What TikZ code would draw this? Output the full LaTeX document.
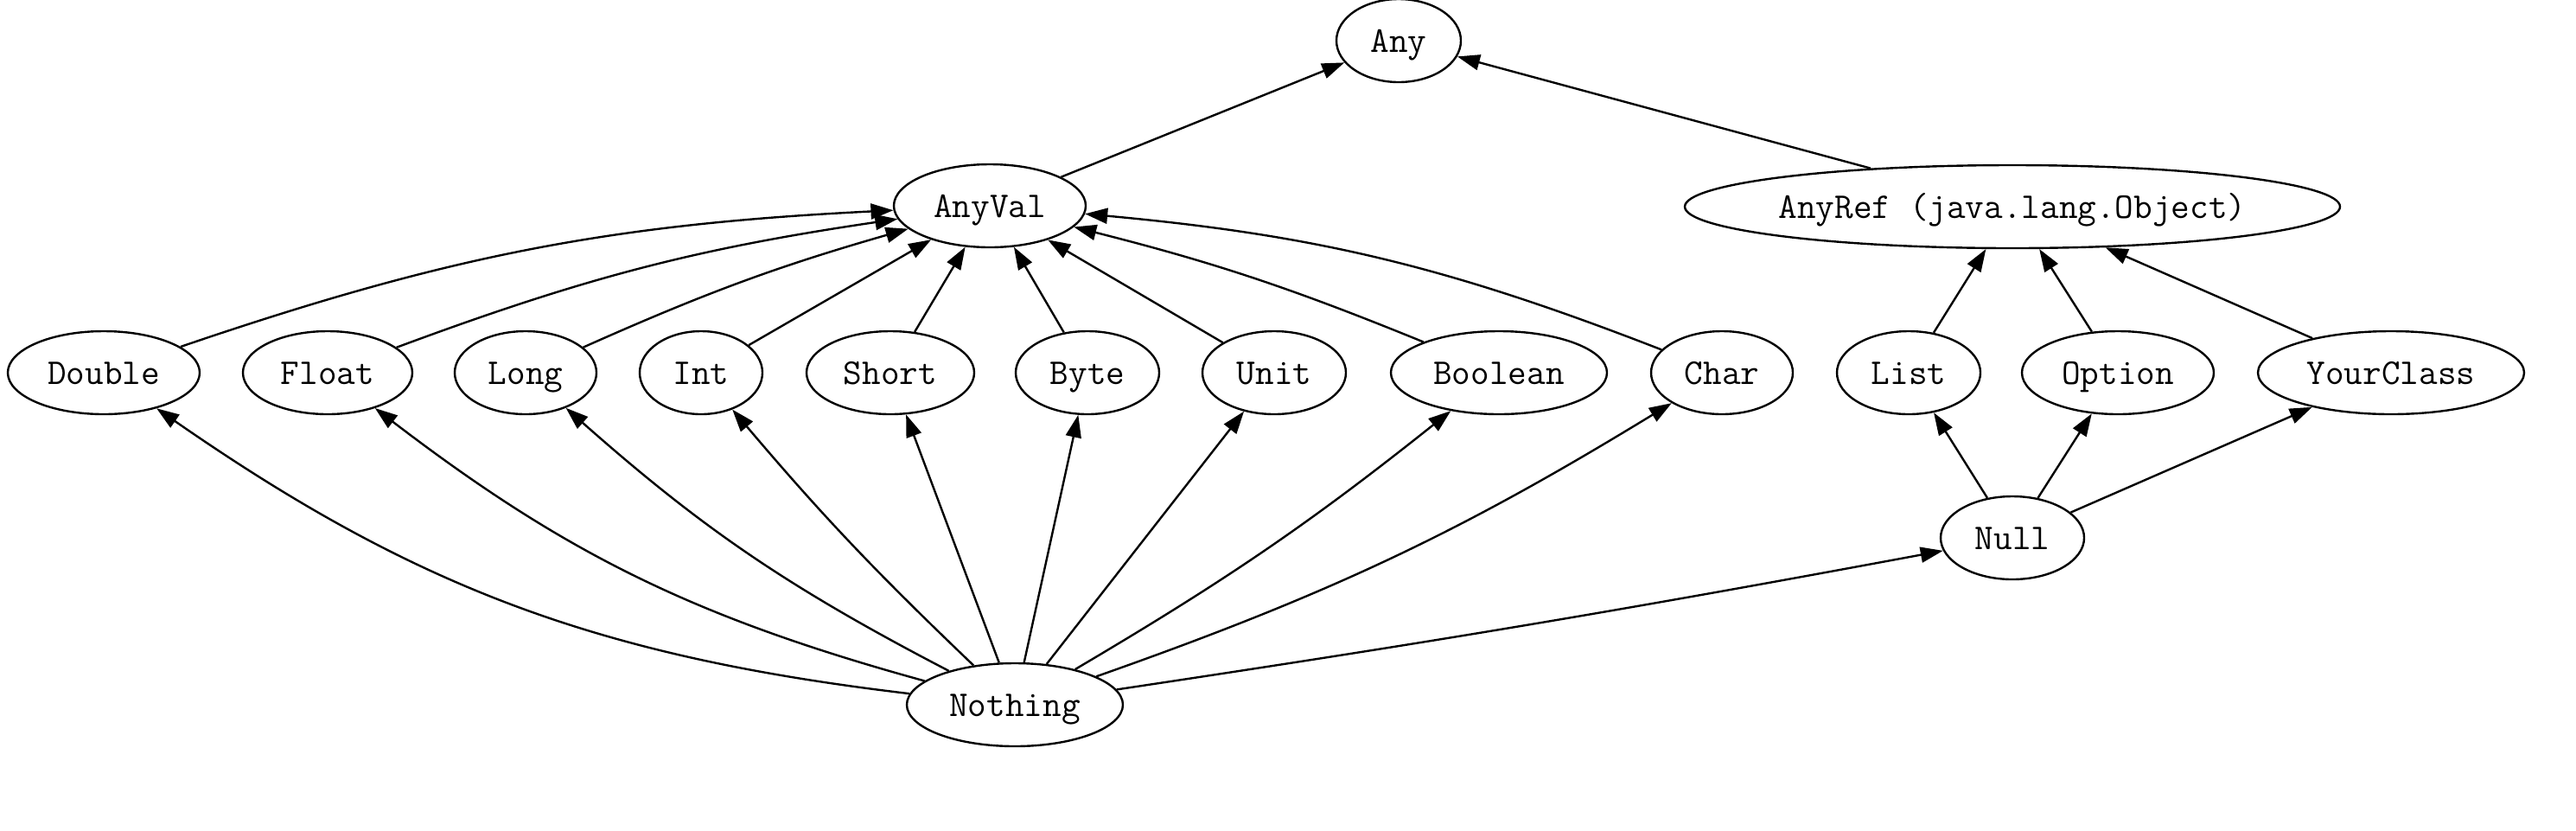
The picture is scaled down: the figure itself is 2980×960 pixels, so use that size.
\documentclass[tikz,border=0pt]{standalone}
\usetikzlibrary{arrows.meta,shapes.geometric}
\begin{document}
\begin{tikzpicture}[x=0.5pt,y=-0.5pt,
  tn/.style={draw, ellipse, line width=1.2pt, inner sep=0pt, minimum height=48pt,
    text height=14pt, text depth=1pt,
    font=\ttfamily\fontsize{21}{24}\selectfont},
  ar/.style={-{Triangle[length=13pt,width=9pt]}, line width=1.2pt}]
\useasboundingbox (0,0) rectangle (2980,960);
% nodes
\node[tn, minimum width=72pt]  (any)     at (1618,47)  {Any};
\node[tn, minimum width=111pt] (anyval)  at (1145,238) {AnyVal};
\node[tn, minimum width=379pt, inner xsep=-4pt] (anyref) at (2328,239) {AnyRef (java.lang.Object)};
\node[tn, minimum width=111pt] (double)  at (120,431)  {Double};
\node[tn, minimum width=98pt]  (float)   at (379,431)  {Float};
\node[tn, minimum width=82pt]  (long)    at (608,431)  {Long};
\node[tn, minimum width=71pt]  (int)     at (811,431)  {Int};
\node[tn, minimum width=97pt]  (short)   at (1030,431) {Short};
\node[tn, minimum width=83pt]  (byte)    at (1258,431) {Byte};
\node[tn, minimum width=83pt]  (unit)    at (1474,431) {Unit};
\node[tn, minimum width=125pt] (boolean) at (1734,431) {Boolean};
\node[tn, minimum width=82pt]  (char)    at (1992,431) {Char};
\node[tn, minimum width=83pt]  (list)    at (2208,431) {List};
\node[tn, minimum width=111pt] (option)  at (2450,431) {Option};
\node[tn, minimum width=154pt] (yourclass) at (2766,431) {YourClass};
\node[tn, minimum width=83pt]  (null)    at (2328,622) {Null};
\node[tn, minimum width=125pt] (nothing) at (1174,815) {Nothing};
% top edges
\draw[ar] (anyval) -- (any);
\draw[ar] (anyref) -- (any);
% value types to AnyVal
\draw[ar] (double)  to[bend left=8] (anyval);
\draw[ar] (float)   to[bend left=6] (anyval);
\draw[ar] (long)    to[bend left=4] (anyval);
\draw[ar] (int)     -- (anyval);
\draw[ar] (short)   -- (anyval);
\draw[ar] (byte)    -- (anyval);
\draw[ar] (unit)    -- (anyval);
\draw[ar] (boolean) to[bend right=4] (anyval);
\draw[ar] (char)    to[bend right=8] (anyval);
% reference types to AnyRef
\draw[ar] (list)      -- (anyref);
\draw[ar] (option)    -- (anyref);
\draw[ar] (yourclass) -- (anyref);
% Null to reference types
\draw[ar] (null) -- (list);
\draw[ar] (null) -- (option);
\draw[ar] (null) -- (yourclass);
% Nothing to everything
\draw[ar] (nothing) to[bend left=14] (double);
\draw[ar] (nothing) to[bend left=11] (float);
\draw[ar] (nothing) to[bend left=7] (long);
\draw[ar] (nothing) to[bend left=3] (int);
\draw[ar] (nothing) -- (short);
\draw[ar] (nothing) -- (byte);
\draw[ar] (nothing) -- (unit);
\draw[ar] (nothing) to[bend right=4] (boolean);
\draw[ar] (nothing) to[bend right=6] (char);
\draw[ar] (nothing) to[bend right=1] (null);
\end{tikzpicture}
\end{document}
